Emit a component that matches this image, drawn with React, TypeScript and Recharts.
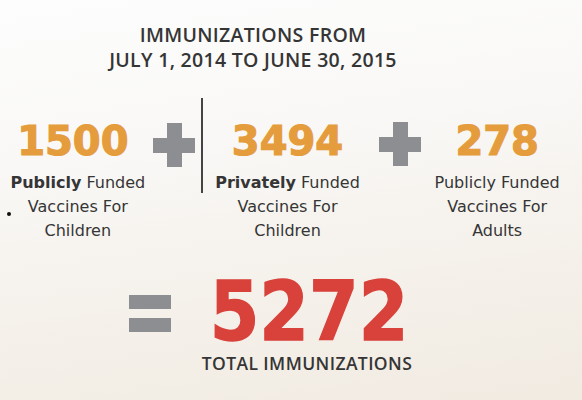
import { BarChart, Bar, XAxis, YAxis } from "recharts";

// Values read from the infographic
const amounts = [1500, 3494, 278];
const fundingWords = ["Publicly", "Privately", "Publicly"];
const boldFunding = [true, true, false];
const secondLines = ["Vaccines For", "Vaccines For", "Vaccines For"];
const audiences = ["Children", "Children", "Adults"];
const titleLines = ["IMMUNIZATIONS FROM", "JULY 1, 2014 TO JUNE 30, 2015"];
const totalLabel = "TOTAL IMMUNIZATIONS";

const ORANGE = "#e59c3d";
const RED = "#d8423b";
const GRAY = "#8d8e91";
const TEXT = "#353535";

const data = amounts.map((amount, i) => ({
  key: `g${i}`,
  amount,
}));

const total = amounts.reduce((s, v) => s + v, 0);

type TickProps = {
  x?: number;
  y?: number;
  payload?: { value: string; index: number };
};

const captionStyle = {
  fill: TEXT,
  fontFamily: "DejaVu Sans",
  fontSize: 16,
};

// each category is drawn on the x axis tick: big number + 3 caption lines
function GroupTick(props: TickProps) {
  const { x = 0, y = 0, payload } = props;
  const i = payload ? payload.index : 0;
  return (
    <g>
      <text
        x={i === 0 ? x - 5 : x}
        y={y + 55}
        textAnchor="middle"
        fill={ORANGE}
        stroke={ORANGE}
        strokeWidth={1.2}
        fontFamily="DejaVu Sans"
        fontWeight={700}
        fontSize={40}
      >
        {amounts[i]}
      </text>
      <text x={x} y={y + 88} textAnchor="middle" {...captionStyle}>
        <tspan fontWeight={boldFunding[i] ? 700 : 400}>{fundingWords[i]}</tspan>
        <tspan> Funded</tspan>
      </text>
      <text x={x} y={y + 112} textAnchor="middle" {...captionStyle}>
        {secondLines[i]}
      </text>
      <text x={x} y={y + 136} textAnchor="middle" {...captionStyle}>
        {audiences[i]}
      </text>
    </g>
  );
}

function Plus({ cx, cy }: { cx: number; cy: number }) {
  return (
    <>
      <div
        style={{
          position: "absolute",
          left: cx - 21,
          top: cy - 7.5,
          width: 42,
          height: 15,
          background: GRAY,
        }}
      />
      <div
        style={{
          position: "absolute",
          left: cx - 7.5,
          top: cy - 22,
          width: 15,
          height: 44,
          background: GRAY,
        }}
      />
    </>
  );
}

export default function App() {
  return (
    <div
      style={{
        position: "absolute",
        left: 0,
        top: 0,
        width: 582,
        height: 400,
        overflow: "hidden",
        background:
          "linear-gradient(172deg, #fdfdfd 0%, #f9f8f6 35%, #f4efe8 75%, #f1ebe2 100%)",
      }}
    >
      {/* title */}
      <div
        style={{
          position: "absolute",
          left: 0,
          top: 22,
          width: 506,
          textAlign: "center",
          fontFamily: "Open Sans",
          fontWeight: 600,
          fontSize: 19.5,
          lineHeight: "25px",
          letterSpacing: 0.3,
          color: TEXT,
        }}
      >
        {titleLines.map((t) => (
          <div key={t}>{t}</div>
        ))}
      </div>

      {/* the three groups */}
      <div style={{ position: "absolute", left: -27, top: 96 }}>
        <BarChart
          width={629}
          height={150}
          data={data}
          margin={{ top: 0, right: 0, bottom: 0, left: 0 }}
        >
          <XAxis
            dataKey="key"
            height={146}
            axisLine={false}
            tickLine={false}
            tickSize={0}
            tickMargin={0}
            interval={0}
            tick={<GroupTick />}
          />
          <YAxis hide />
          <Bar dataKey="amount" fill="none" isAnimationActive={false} />
        </BarChart>
      </div>

      <Plus cx={174} cy={145} />
      <Plus cx={400} cy={144} />

      {/* divider */}
      <div
        style={{
          position: "absolute",
          left: 201,
          top: 98,
          width: 1.5,
          height: 95,
          background: "#444",
        }}
      />
      <div
        style={{
          position: "absolute",
          left: 7,
          top: 212,
          width: 4,
          height: 4,
          borderRadius: 2,
          background: "#111",
        }}
      />

      {/* equals */}
      <div
        style={{
          position: "absolute",
          left: 129,
          top: 295,
          width: 42,
          height: 14,
          background: GRAY,
        }}
      />
      <div
        style={{
          position: "absolute",
          left: 129,
          top: 318,
          width: 42,
          height: 14,
          background: GRAY,
        }}
      />

      {/* total */}
      <div
        style={{
          position: "absolute",
          left: 159,
          top: 277,
          width: 300,
          height: 70,
          textAlign: "center",
          fontFamily: "DejaVu Sans",
          fontWeight: 700,
          fontSize: 82,
          lineHeight: "70px",
          color: RED,
          WebkitTextStroke: `1.5px ${RED}`,
          transform: "scaleX(0.87)",
        }}
      >
        {total}
      </div>
      <div
        style={{
          position: "absolute",
          left: 157,
          top: 353,
          width: 300,
          textAlign: "center",
          fontFamily: "Open Sans",
          fontWeight: 600,
          fontSize: 17.5,
          lineHeight: "20px",
          letterSpacing: 0.4,
          color: TEXT,
        }}
      >
        {totalLabel}
      </div>
    </div>
  );
}
